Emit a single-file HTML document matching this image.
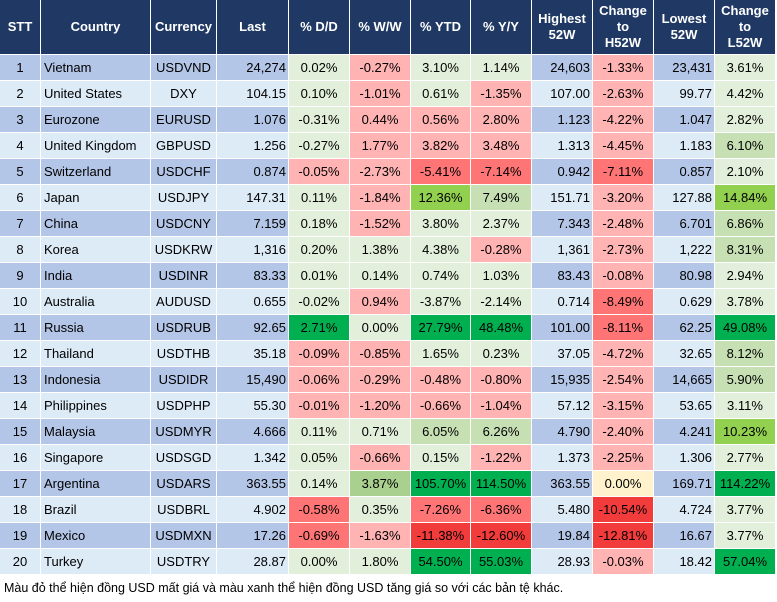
<!DOCTYPE html>
<html><head><meta charset="utf-8">
<style>
body{margin:0;width:777px;height:602px;background:#fff;position:relative;overflow:hidden;font-family:"Liberation Sans",Arial,sans-serif;}
.c{position:absolute;box-sizing:border-box;font-size:13px;line-height:25px;height:25px;white-space:nowrap;color:#000;}
.h{position:absolute;box-sizing:border-box;background:#1f3864;color:#fff;font-weight:bold;font-size:13px;line-height:16px;display:flex;align-items:center;justify-content:center;text-align:center;height:54px;top:0;}
#foot{position:absolute;left:4px;top:581px;font-size:12.5px;color:#000;}
</style></head><body>
<div id="tbl"></div>
<div id="foot">Màu đỏ thể hiện đồng USD mất giá và màu xanh thể hiện đồng USD tăng giá so với các bản tệ khác.</div>
<script>
const headers=["STT","Country","Currency","Last","% D/D","% W/W","% YTD","% Y/Y","Highest<br>52W","Change<br>to<br>H52W","Lowest<br>52W","Change<br>to<br>L52W"];
const countries=["Vietnam","United States","Eurozone","United Kingdom","Switzerland","Japan","China","Korea","India","Australia","Russia","Thailand","Indonesia","Philippines","Malaysia","Singapore","Argentina","Brazil","Mexico","Turkey"];
const currencies=["USDVND","DXY","EURUSD","GBPUSD","USDCHF","USDJPY","USDCNY","USDKRW","USDINR","AUDUSD","USDRUB","USDTHB","USDIDR","USDPHP","USDMYR","USDSGD","USDARS","USDBRL","USDMXN","USDTRY"];
const last=["24,274","104.15","1.076","1.256","0.874","147.31","7.159","1,316","83.33","0.655","92.65","35.18","15,490","55.30","4.666","1.342","363.55","4.902","17.26","28.87"];
const dd=["0.02%","0.10%","-0.31%","-0.27%","-0.05%","0.11%","0.18%","0.20%","0.01%","-0.02%","2.71%","-0.09%","-0.06%","-0.01%","0.11%","0.05%","0.14%","-0.58%","-0.69%","0.00%"];
const ww=["-0.27%","-1.01%","0.44%","1.77%","-2.73%","-1.84%","-1.52%","1.38%","0.14%","0.94%","0.00%","-0.85%","-0.29%","-1.20%","0.71%","-0.66%","3.87%","0.35%","-1.63%","1.80%"];
const ytd=["3.10%","0.61%","0.56%","3.82%","-5.41%","12.36%","3.80%","4.38%","0.74%","-3.87%","27.79%","1.65%","-0.48%","-0.66%","6.05%","0.15%","105.70%","-7.26%","-11.38%","54.50%"];
const yy=["1.14%","-1.35%","2.80%","3.48%","-7.14%","7.49%","2.37%","-0.28%","1.03%","-2.14%","48.48%","0.23%","-0.80%","-1.04%","6.26%","-1.22%","114.50%","-6.36%","-12.60%","55.03%"];
const high=["24,603","107.00","1.123","1.313","0.942","151.71","7.343","1,361","83.43","0.714","101.00","37.05","15,935","57.12","4.790","1.373","363.55","5.480","19.84","28.93"];
const chH=["-1.33%","-2.63%","-4.22%","-4.45%","-7.11%","-3.20%","-2.48%","-2.73%","-0.08%","-8.49%","-8.11%","-4.72%","-2.54%","-3.15%","-2.40%","-2.25%","0.00%","-10.54%","-12.81%","-0.03%"];
const low=["23,431","99.77","1.047","1.183","0.857","127.88","6.701","1,222","80.98","0.629","62.25","32.65","14,665","53.65","4.241","1.306","169.71","4.724","16.67","18.42"];
const chL=["3.61%","4.42%","2.82%","6.10%","2.10%","14.84%","6.86%","8.31%","2.94%","3.78%","49.08%","8.12%","5.90%","3.11%","10.23%","2.77%","114.22%","3.77%","3.77%","57.04%"];
// colour codes per row: DD, WW, YTD, YY, H, L
const shades=["lg pk lg lg pk lg","lg pk lg pk pk lg","lg pk pk pk pk lg","lg pk pk pk pk mg","pk pk mr mr mr lg","lg pk bg mg pk bg","lg pk lg lg pk mg","lg lg lg pk pk mg","lg lg lg lg pk lg","lg pk lg lg mr lg","sg lg sg sg mr sg","pk pk lg lg pk mg","pk pk pk pk pk mg","pk pk pk pk pk lg","lg lg mg mg pk bg","lg pk lg pk pk lg","lg ag sg sg ye sg","mr lg mr mr sr lg","mr pk sr sr sr lg","lg lg sg sg pk sg"];
const pal={lg:"#e2efda",pk:"#ffb3b3",mr:"#ff7575",sr:"#f23b3b",mg:"#c6e0b4",ag:"#a9d08e",bg:"#92d050",sg:"#00b050",ye:"#fff2cc"};
const lefts=[0,41,151,217,289,350,411,471,532,593,654,715,776];
const hnames=["stt","country","currency","last","dd","ww","ytd","yy","highest-52w","change-h52w","lowest-52w","change-l52w"];
const tbl=document.getElementById('tbl');
headers.forEach((t,j)=>{const d=document.createElement('div');d.className='h';


d.style.left=lefts[j]+'px';d.style.width=(lefts[j+1]-lefts[j]-1)+'px';d.innerHTML=t;tbl.appendChild(d);});
for(let i=0;i<countries.length;i++){
 const zebra=i%2===0?"#b4c6e7":"#ddebf7";
 const sh=shades[i].split(' ');
 const vals=[String(i+1),countries[i],currencies[i],last[i],dd[i],ww[i],ytd[i],yy[i],high[i],chH[i],low[i],chL[i]];
 const bgs=[zebra,zebra,zebra,zebra,pal[sh[0]],pal[sh[1]],pal[sh[2]],pal[sh[3]],zebra,pal[sh[4]],zebra,pal[sh[5]]];
 const al=["center","left","center","right","center","center","center","center","right","center","right","center"];
 vals.forEach((v,j)=>{const d=document.createElement('div');d.className='c';
  
  
  d.style.left=lefts[j]+'px';d.style.width=(lefts[j+1]-lefts[j]-1)+'px';
  d.style.top=(55+26*i)+'px';d.style.background=bgs[j];d.style.textAlign=al[j];
  d.style.padding=al[j]==='left'?'0 0 0 3px':(al[j]==='right'?'0 2px 0 0':'0');
  d.textContent=v;tbl.appendChild(d);});
}
</script>
</body></html>
